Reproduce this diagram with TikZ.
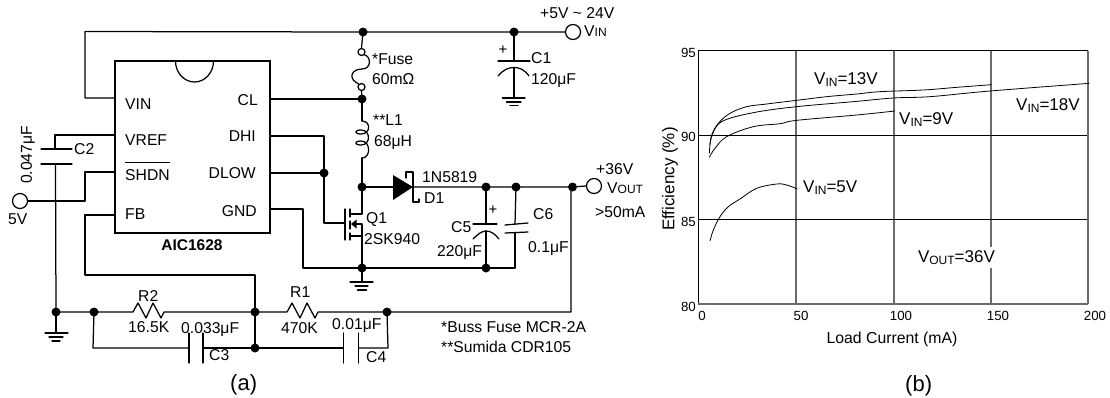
\documentclass[tikz,border=0pt]{standalone}
\usepackage{fontspec}
\setmainfont{Liberation Sans}
\newcommand{\fs}[1]{\fontsize{#1}{#1}\selectfont}
\newcommand{\subIN}[1]{\raisebox{-2.5pt}{\fs{12}#1}}
\newcommand{\capIN}[1]{{\fs{12}#1}}
\begin{document}
\begin{tikzpicture}[x=1pt,y=-1pt,
  wire/.style={line width=1.25pt,line cap=round,line join=round},
  jdot/.style={circle,fill=black,inner sep=0pt,minimum size=9pt},
  term/.style={circle,draw,line width=1.25pt,fill=white,inner sep=0pt,minimum size=15pt},
  hole/.style={circle,draw,line width=1.25pt,fill=white,inner sep=0pt,minimum size=7pt},
  lbl/.style={anchor=base west,inner sep=0pt,font=\fs{15.7}},
  chlbl/.style={anchor=base west,inner sep=0pt,font=\fs{17}},
  rlbl/.style={anchor=base east,inner sep=0pt,font=\fs{15.7}},
  tick/.style={inner sep=0pt,font=\fs{13.3}},
  grid/.style={line width=1.5pt,draw=black!58},
  hgrid/.style={line width=1pt,draw=black},
  curve/.style={line width=0.8pt,line join=round}]
\useasboundingbox (0,0) rectangle (1110,397);

% ---- IC
\node[draw,line width=1.25pt,minimum width=155pt,minimum height=172pt,inner sep=0pt] (ic) at (192.5,147) {};
\draw[wire] (175.5,61) arc[start angle=180,end angle=360,x radius=19pt,y radius=21pt];
\node[anchor=base,inner sep=0pt,font=\fs{15.5}\bfseries] (icname) at (192,250) {AIC1628};
\node[lbl] (pvin) at (125,109) {VIN};
\node[lbl] (pvref) at (125,145) {VREF};
\node[lbl] (pshdn) at (125,180) {SHDN};
\draw[line width=1pt] ([yshift=6pt]pshdn.north west) -- ([yshift=6pt]pshdn.north east);
\node[lbl] (pfb) at (125,219) {FB};
\node[rlbl] (pcl) at (258,105) {CL};
\node[rlbl] (pdhi) at (256,141) {DHI};
\node[rlbl] (pdlow) at (256,178) {DLOW};
\node[rlbl] (pgnd) at (257,216) {GND};

% ---- pin coordinates
\coordinate (iVIN) at (115,98); \coordinate (iVREF) at (115,135);
\coordinate (iSHDN) at (115,172); \coordinate (iFB) at (115,215);
\coordinate (iCL) at (270,99); \coordinate (iDHI) at (270,136);
\coordinate (iDLOW) at (270,173); \coordinate (iGND) at (270,209);

% ---- junctions and terminals
\node[jdot] (jtop) at (363,32) {};
\node[jdot] (jc1) at (514,32) {};
\node[term] (tvin) at (573,32) {};
\node[jdot] (jcl) at (362,99) {};
\node[jdot] (jdl) at (324,173) {};
\node[jdot] (jsw) at (362,187) {};
\node[jdot] (jc5) at (486,187) {};
\node[jdot] (jc6) at (516,187) {};
\node[jdot] (jfb) at (572.5,187) {};
\node[term] (tout) at (594,186) {};
\node[jdot] (jq) at (362,268) {};
\node[jdot] (jc5b) at (486,268) {};
\node[term] (t5v) at (20,201) {};
\node[jdot] (jg) at (56,312) {};
\node[jdot] (jc3) at (94,312) {};
\node[jdot] (jm) at (255,312) {};
\node[jdot] (jm2) at (255,348) {};
\node[jdot] (jc4) at (387,312) {};
\node[hole] (fa) at (361.5,52) {};
\node[hole] (fb) at (361.5,87) {};

% ---- top rail
\draw[wire] (iVIN) -- (85,98) -- (85,31.5) -- (jtop.center) -- (jc1.center) -- (tvin.west);
\draw[wire] (jtop.center) -- (fa.north);
% fuse
\draw[wire] (fa.south east) .. controls (371,56) and (372,69) .. (362,69)
   .. controls (355,69) and (351,73) .. (352,77) .. controls (353,82) and (357,82) .. (fb.north west);
\draw[wire] (fb.south) -- (jcl.center);
\draw[wire] (iCL) -- (jcl.center);
% L1
\coordinate (la) at (362,121); \coordinate (lb) at (362,158);
\draw[wire] (jcl.center) -- (la);
\draw[wire] (la) .. controls (371,121) and (371,134) .. (361,134)
   .. controls (354,134) and (354,130) .. (361,130) .. controls (371,130) and (371,145) .. (361,145)
   .. controls (354,145) and (354,141) .. (361,141) .. controls (371,141) and (371,158) .. (lb);
\draw[wire] (lb) -- (jsw.center);

% ---- C1
\draw[wire] (jc1.center) -- (514,61);
\draw[wire] (498,61) -- (530,61);
\draw[wire] (498,76) .. controls (504,69) and (509,67.5) .. (514,67.5) .. controls (519,67.5) and (524,69) .. (529,76);
\draw[wire] (514,67.5) -- (514,98);
\draw[wire] (502.5,98) -- (525,98) (506.5,102) -- (521,102) (510,105.5) -- (518,105.5);
\node[inner sep=0pt,font=\fs{15}] (plus1) at (503,50) {+};

% ---- DHI, DLOW, gate
\draw[wire] (iDHI) -- (324,136) -- (jdl.center);
\draw[wire] (iDLOW) -- (jdl.center);
\coordinate (gate) at (345,223);
\draw[wire] (jdl.center) -- (324,223) -- (gate);
\draw[wire] (345,209) -- (345,240);
\draw[wire] (350,209) -- (350,217) (350,221) -- (350,229) (350,233) -- (350,240);
\draw[wire] (jsw.center) -- (362,214) -- (350,214);
\draw[wire] (350,236) -- (362,236) -- (jq.center);
\draw[wire] (362,236) -- (362,224) -- (356,224);
\fill (351,224) -- (356.5,219.5) -- (356.5,228.5) -- cycle;

% ---- diode and output rail
\coordinate (da) at (393,187); \coordinate (dk) at (413,187);
\draw[wire] (jsw.center) -- (da);
\fill (393,175) -- (413,187) -- (393,200) -- cycle;
\draw[wire] (406,178) -- (406,172) -- (413,172) -- (413,202) -- (419,202) -- (419,199);
\draw[wire] (dk) -- (jc5.center) -- (jc6.center) -- (jfb.center) -- (tout.west);

% ---- C5, C6
\draw[wire] (jc5.center) -- (486,224);
\draw[wire] (473,224) -- (497,224);
\draw[wire] (473,239) .. controls (478,234) and (482,231) .. (486,231) .. controls (491,231) and (495,234) .. (499,239);
\draw[wire] (486,231) -- (jc5b.center);
\node[inner sep=0pt,font=\fs{15}] (plus5) at (493,210) {+};
\draw[wire] (jc6.center) -- (515,224);
\draw[wire] (505,225) -- (528,223) (505,233) -- (528,232);
\draw[wire] (515,233) -- (515,268);

% ---- ground rail of switch
\draw[wire] (iGND) -- (303,209) -- (303,268) -- (jq.center) -- (jc5b.center) -- (515,268);
\draw[wire] (jq.center) -- (362,282);
\draw[wire] (350,282) -- (373,282) (355,286) -- (368,286) (357.5,290) -- (366.5,290);

% ---- C2, VREF, SHDN
\draw[wire] (iVREF) -- (55,135) -- (55,149);
\draw[wire] (41,149) -- (72,149) (41,164) -- (72,164);
\draw[wire] (55.5,164) -- (jg.center);
\draw[wire] (iSHDN) -- (85,172) -- (85,201) -- (t5v.east);
\draw[wire] (jg.center) -- (56,333);
\draw[wire] (45,333) -- (68,333) (49,337) -- (63,337) (52,341) -- (60,341);

% ---- FB and feedback network
\draw[wire] (iFB) -- (85,215) -- (85,275) -- (255,275) -- (jm.center);
\draw[wire] (jm.center) -- (jm2.center);
\draw[wire] (jg.center) -- (jc3.center) -- (133,312) -- (138,303) -- (146,318) -- (153,303) -- (161,318) -- (164,312) -- (jm.center)
  -- (287,312) -- (292,303) -- (300,318) -- (307,303) -- (315,318) -- (318,312) -- (jc4.center) -- (571,312) -- (571,187);
\draw[wire] (jc3.center) -- (93,348) -- (189,348);
\draw[wire] (189,333) -- (189,363) (203,333) -- (203,363);
\draw[wire] (203,348) -- (jm2.center) -- (343.5,348);
\draw[wire] (343.5,333) -- (343.5,363) (358.5,333) -- (358.5,363);
\draw[wire] (358.5,348) -- (388,348) -- (jc4.center);

% ---- schematic labels
\node[lbl] (tx1) at (540,18) {+5V \char"7E\ 24V};
\node[lbl] (tx2) at (584,36) {V\capIN{IN}};
\node[lbl] (tx3) at (372,64) {*Fuse};
\node[lbl] (tx4) at (372,84) {60mΩ};
\node[lbl] (tx5) at (373,125) {**L1};
\node[lbl] (tx6) at (374,146) {68μH};
\node[lbl] (tx7) at (531,63) {C1};
\node[lbl] (tx8) at (531,84) {120μF};
\node[lbl] (tx9) at (422,182) {1N5819};
\node[lbl] (tx10) at (424,203) {D1};
\node[lbl] (tx11) at (596,174) {+36V};
\node[lbl] (tx12) at (607,193) {V\capIN{OUT}};
\node[lbl] (tx13) at (595,217) {>50mA};
\node[lbl] (tx14) at (366,223) {Q1};
\node[lbl] (tx15) at (364,244) {2SK940};
\node[lbl] (tx16) at (451,232) {C5};
\node[lbl] (tx17) at (437,256) {220μF};
\node[lbl] (tx18) at (533,219) {C6};
\node[lbl] (tx19) at (528,252) {0.1μF};
\node[lbl] (tx20) at (290,297) {R1};
\node[lbl] (tx21) at (281,333) {470K};
\node[lbl] (tx22) at (138,301) {R2};
\node[lbl] (tx23) at (128,332) {16.5K};
\node[lbl] (tx24) at (181,333) {0.033μF};
\node[lbl] (tx25) at (209,360) {C3};
\node[lbl] (tx26) at (332,329) {0.01μF};
\node[lbl] (tx27) at (366,362) {C4};
\node[lbl] (tx28) at (441,332) {*Buss Fuse MCR-2A};
\node[lbl] (tx29) at (441,352) {**Sumida CDR105};
\node[lbl] (tx30) at (74,154) {C2};
\node[inner sep=0pt,font=\fs{15.7},rotate=90] (tx31) at (28,155) {0.047μF};
\node[lbl] (tx32) at (8,224) {5V};
\node[lbl,font=\fs{22}] (capa) at (230,390) {(a)};
\node[lbl,font=\fs{22}] (capb) at (905,391) {(b)};

% ---- chart
\draw[grid] (796,50.7) -- (796,304) (894,50.7) -- (894,304) (991,50.7) -- (991,304);
\draw[hgrid] (698,50.7) -- (1088,50.7) (698,135) -- (1088,135) (698,219) -- (1088,219);
\draw[hgrid] (698,50.7) -- (698,304);
\draw[grid] (1088,50.7) -- (1088,304) (698,304) -- (1088,304);
\begin{scope}[shift={(640,30)},x=.33333pt,y=-.33333pt]
 \draw[curve] plot[smooth,tension=.6] coordinates {(210,345)(215,315)(235,280)(270,250)(320,230)(380,222)(470,211)(560,200)(650,192)(720,185)(850,180)(950,172)(1055,164)};
 \draw[curve] plot[smooth,tension=.6] coordinates {(208,370)(215,320)(245,275)(340,248)(470,230)(640,215)(760,204)(870,200)(1050,183)(1348,160)};
 \draw[curve] plot[smooth,tension=.6] coordinates {(208,382)(225,355)(260,320)(340,290)(420,281)(470,271)(650,255)(765,243)};
 \draw[curve] plot[smooth,tension=.6] coordinates {(210,633)(220,600)(240,560)(265,530)(300,507)(350,475)(410,462)(440,465)(472,477)};
\end{scope}
\node[tick,anchor=east] (y95) at (696,53) {95};
\node[tick,anchor=east] (y90) at (696,137) {90};
\node[tick,anchor=east] (y85) at (696,222) {85};
\node[tick,anchor=east] (y80) at (696,307) {80};
\node[tick] (x0) at (702,316) {0};
\node[tick] (x50) at (801,316) {50};
\node[tick] (x100) at (901,316) {100};
\node[tick] (x150) at (998,316) {150};
\node[tick] (x200) at (1095,316) {200};
\node[lbl,anchor=base,font=\fs{15.8}] (xl) at (892,343) {Load Current (mA)};
\node[inner sep=0pt,font=\fs{17},rotate=90] (yl) at (670,179) {Efficiency (\%)};
\node[chlbl] (v13) at (814,84) {V\subIN{IN}=13V};
\node[chlbl] (v18) at (1016,110) {V\subIN{IN}=18V};
\node[chlbl] (v9) at (899,124) {V\subIN{IN}=9V};
\node[chlbl] (v5) at (803,192) {V\subIN{IN}=5V};
\node[chlbl,fill=white,inner ysep=3pt,outer sep=0pt] (vout) at (918,262) {V\subIN{OUT}=36V};
\end{tikzpicture}
\end{document}
